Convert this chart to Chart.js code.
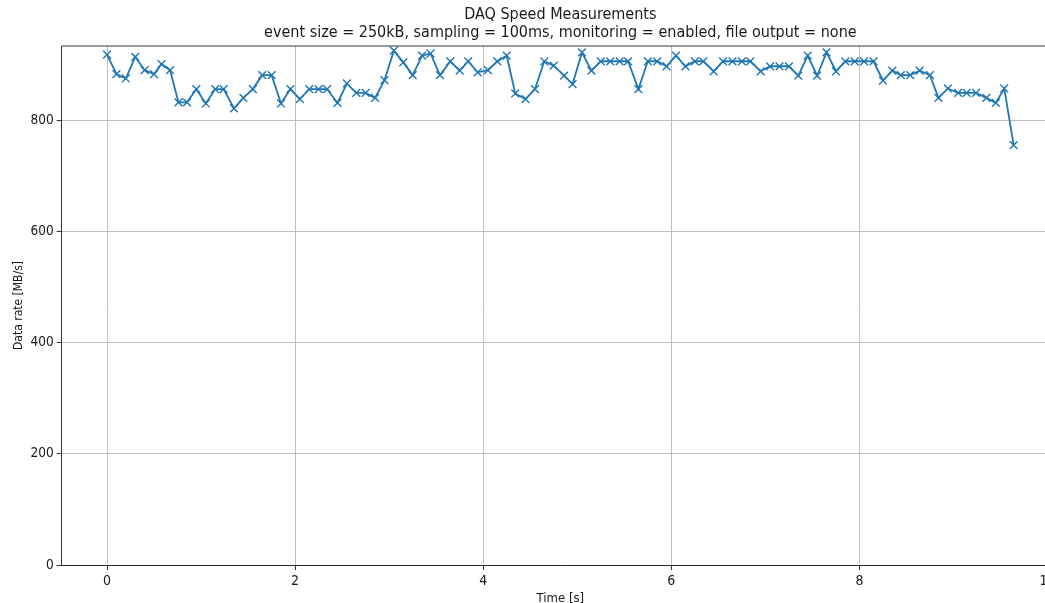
<!DOCTYPE html>
<html>
<head>
<meta charset="utf-8">
<script src="https://cdn.jsdelivr.net/npm/chart.js@4.4.1/dist/chart.umd.min.js"></script>
<style>
  html, body { margin: 0; padding: 0; background: #fff; overflow: hidden; }
  #wrap { width: 1090px; height: 603px; }
</style>
</head>
<body>
<div id="wrap"><canvas id="c" width="1090" height="603"></canvas></div>
<script>
// Sample timestamps [s] and measured data rates [MB/s]
const times = [
  0.00, 0.10, 0.20, 0.30, 0.40, 0.50, 0.58, 0.67, 0.76, 0.85,
  0.95, 1.05, 1.15, 1.24, 1.35, 1.45, 1.55, 1.65, 1.75, 1.85,
  1.95, 2.05, 2.15, 2.25, 2.34, 2.45, 2.55, 2.65, 2.75, 2.85,
  2.95, 3.05, 3.15, 3.25, 3.35, 3.44, 3.54, 3.65, 3.75, 3.84,
  3.94, 4.05, 4.15, 4.25, 4.34, 4.45, 4.55, 4.65, 4.75, 4.86,
  4.95, 5.05, 5.15, 5.25, 5.35, 5.45, 5.54, 5.65, 5.75, 5.85,
  5.95, 6.05, 6.15, 6.25, 6.34, 6.45, 6.55, 6.65, 6.75, 6.84,
  6.95, 7.05, 7.15, 7.25, 7.35, 7.45, 7.55, 7.65, 7.75, 7.85,
  7.95, 8.05, 8.15, 8.25, 8.35, 8.44, 8.54, 8.64, 8.75, 8.84,
  8.94, 9.05, 9.14, 9.24, 9.35, 9.45, 9.54, 9.64
];
const rates = [
  919, 884, 876, 915, 891, 884, 902, 891, 833, 833,
  857, 831, 857, 857, 822, 841, 857, 882, 882, 831,
  857, 839, 857, 857, 857, 832, 867, 850, 850, 841,
  873, 926, 905, 882, 917, 921, 882, 907, 890, 907,
  887, 891, 907, 917, 849, 839, 857, 907, 899, 881,
  866, 923, 890, 907, 907, 907, 907, 857, 907, 907,
  898, 917, 898, 907, 907, 889, 907, 907, 907, 907,
  889, 898, 898, 898, 881, 917, 881, 923, 889, 907,
  907, 907, 907, 872, 890, 882, 882, 890, 882, 841,
  858, 850, 850, 850, 841, 832, 858, 756
];
const titleLines = [
  'DAQ Speed Measurements',
  'event size = 250kB, sampling = 100ms, monitoring = enabled, file output = none'
];
const xTicks = [0, 2, 4, 6, 8, 10];
const yTicks = [0, 200, 400, 600, 800];

const points = times.map((t, i) => ({ x: t, y: rates[i] }));

// axis limits with a 5% margin around the data, y anchored at zero
const xSpan = times[times.length - 1] - times[0];
const xMin = times[0] - 0.05 * xSpan;
const xMax = times[times.length - 1] + 0.05 * xSpan;
const ySpan = Math.max(...rates) - Math.min(...rates);
const yMax = Math.max(...rates) + 0.05 * ySpan;

const TXT = '#1a1a1a';
const FONT = "'DejaVu Sans Condensed', 'Liberation Sans Narrow', 'DejaVu Sans', sans-serif";

// closes the frame on the top and right sides
const frame = {
  id: 'frame',
  afterDatasetsDraw(chart) {
    const { ctx, chartArea: a } = chart;
    ctx.save();
    ctx.strokeStyle = '#000';
    ctx.lineWidth = 0.8;
    ctx.beginPath();
    ctx.moveTo(a.left, a.top);
    ctx.lineTo(a.right, a.top);
    ctx.lineTo(a.right, a.bottom);
    ctx.stroke();
    ctx.restore();
  }
};

new Chart(document.getElementById('c'), {
  type: 'line',
  data: {
    datasets: [{
      data: points,
      borderColor: '#1f77b4',
      backgroundColor: '#1f77b4',
      borderWidth: 1.8,
      pointStyle: 'crossRot',
      pointRadius: 5.5,
      pointBorderWidth: 1.4,
      pointBorderColor: '#1f77b4',
      tension: 0,
      fill: false
    }]
  },
  options: {
    responsive: false,
    animation: false,
    devicePixelRatio: 1,
    layout: { padding: { left: 0, right: 31, top: 0, bottom: 0 } },
    plugins: {
      legend: { display: false },
      tooltip: { enabled: false },
      title: {
        display: true,
        fullSize: false,
        text: titleLines,
        color: TXT,
        font: { family: FONT, size: 16, weight: 'normal', lineHeight: 1.125 },
        padding: { top: 6, bottom: 4 }
      }
    },
    scales: {
      x: {
        type: 'linear',
        min: xMin,
        max: xMax,
        afterBuildTicks(scale) { scale.ticks = xTicks.map(v => ({ value: v })); },
        afterFit(scale) { scale.height = 38; },
        ticks: {
          color: TXT,
          font: { family: FONT, size: 14 },
          padding: 3,
          maxRotation: 0,
          autoSkip: false,
          callback: v => String(v)
        },
        grid: { color: '#b0b0b0', lineWidth: 0.8, tickColor: '#000', tickLength: 5, tickWidth: 0.8 },
        border: { display: true, color: '#000', width: 0.8 },
        title: {
          display: true,
          text: 'Time [s]',
          color: TXT,
          font: { family: FONT, size: 13 },
          padding: { top: 0, bottom: -3 }
        }
      },
      y: {
        type: 'linear',
        min: 0,
        max: yMax,
        afterBuildTicks(scale) { scale.ticks = yTicks.map(v => ({ value: v })); },
        afterFit(scale) { scale.width = 61.7; },
        ticks: {
          color: TXT,
          font: { family: FONT, size: 13.5 },
          padding: 3,
          autoSkip: false,
          callback: v => String(v)
        },
        grid: { color: '#b0b0b0', lineWidth: 0.8, tickColor: '#000', tickLength: 5, tickWidth: 0.8 },
        border: { display: true, color: '#000', width: 0.8 },
        title: {
          display: true,
          text: 'Data rate [MB/s]',
          color: TXT,
          font: { family: FONT, size: 12 },
          padding: { top: 12, bottom: 0 }
        }
      }
    }
  },
  plugins: [frame]
});
</script>
</body>
</html>
